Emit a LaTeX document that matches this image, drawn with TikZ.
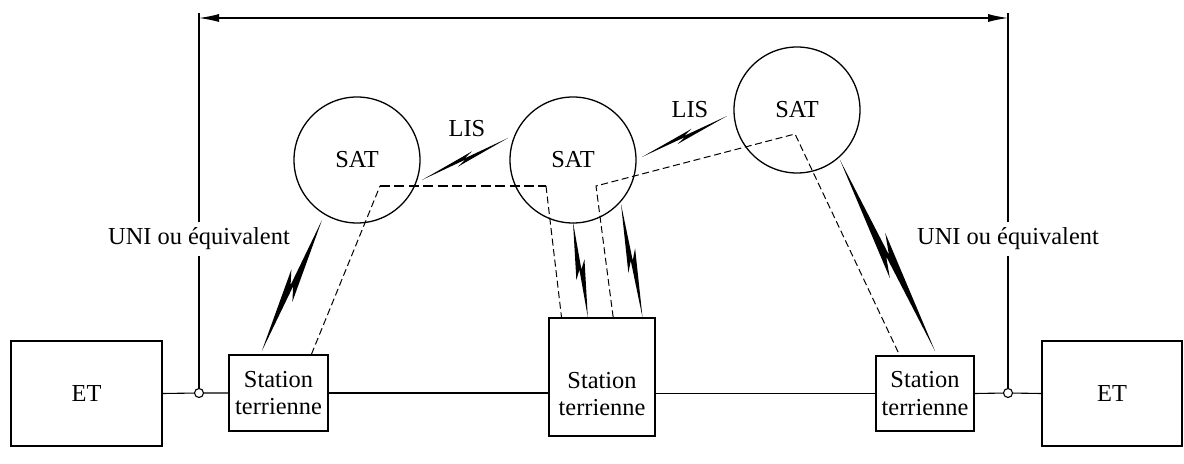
\documentclass[tikz,border=0pt]{standalone}
\usepackage{fontspec}
\setmainfont{Liberation Serif}
\usetikzlibrary{calc,arrows.meta}
% lightning bolt: #1 start, #2 end, #3 half width, #4 notch offset, #5 side angle
\newcommand\boltshape[5]{%
  \fill (#1) -- ($(#1)!0.6!(#2)!#3!#5:(#2)$) -- ($(#1)!0.5!(#2)!#4!#5:(#2)$) -- (#2)
    -- ($(#2)!0.6!(#1)!#3!#5:(#1)$) -- ($(#2)!0.5!(#1)!#4!#5:(#1)$) -- cycle;}
\begin{document}
\begin{tikzpicture}[x=0.5pt,y=-0.5pt, font=\fontsize{12.2}{13.8}\selectfont, line width=0.55pt,
  box/.style={draw, line width=0.7pt, inner sep=0pt, align=center},
  sat/.style={draw, circle, minimum size=63pt, inner sep=0pt, line width=0.65pt},
  tap/.style={draw, circle, fill=white, minimum size=4.5pt, inner sep=0pt},
  thindash/.style={dash pattern=on 3.5pt off 1.8pt, line width=0.5pt},
  thickdash/.style={dash pattern=on 5pt off 2.2pt, line width=1.1pt},
  lbl/.style={inner xsep=1pt, inner ysep=2.5pt},
  dimarrow/.style={{Latex[length=10pt,width=4pt]}-{Latex[length=10pt,width=4pt]}}]
\useasboundingbox (0,0) rectangle (1184,464);

% boxes
\node[box, minimum width=75.5pt, minimum height=52.5pt] (ETL) at (86.5,393.5) {ET};
\node[box, minimum width=70pt, minimum height=52.5pt] (ETR) at (1112,393.5) {ET};
\node[box, minimum width=49.5pt, minimum height=38pt] (SL) at (278.5,393) {Station\\terrienne};
\node[box, minimum width=53pt, minimum height=59pt] (SCb) at (602,377) {};
\node[align=center, inner sep=0pt] (SC) at (602,394) {Station\\terrienne};
\node[box, minimum width=49pt, minimum height=37.5pt] (SR) at (925,393.5) {Station\\terrienne};

% interface points
\node[tap] (T1) at (199,393) {};
\node[tap] (T2) at (1008,393) {};

% ground line
\draw (ETL.east) -- (T1) -- (SL.west);
\draw (SL.east) -- (SL.east -| SCb.west);
\draw (SR.west) -- (SR.west -| SCb.east);
\draw (SR.east) -- (T2) -- (ETR.west);

% UNI labels and vertical lines
\node[lbl] (U1) at (199,239) {UNI ou équivalent};
\node[lbl] (U2) at (1008,239) {UNI ou équivalent};
\coordinate (top1) at (199,13);
\coordinate (top2) at (1008,13);
\draw (T1) -- (U1.south);
\draw (U1.north) -- (top1);
\draw (T2) -- (U2.south);
\draw (U2.north) -- (top2);
\coordinate (a1) at (199,18);
\coordinate (a2) at (1008,18);
\draw[dimarrow] (a1) -- (a2);

% satellites
\node[sat] (S1) at (357,160) {SAT};
\node[sat] (S2) at (573,160) {SAT};
\node[sat] (S3) at (797,110) {SAT};
\node (L1) at (467,129) {LIS};
\node (L2) at (690,110) {LIS};

% bolt end points
\coordinate (bAt) at (322,220);
\coordinate (bAb) at ($(SL.north west)!0.333!(SL.north east)+(0,-3)$);
\coordinate (bBt) at (573,222);
\coordinate (bBb) at ($(SCb.north west)!0.368!(SCb.north east)$);
\coordinate (bCt) at (621,204);
\coordinate (bCb) at ($(SCb.north west)!0.877!(SCb.north east)$);
\coordinate (bDt) at (840,160);
\coordinate (bDb) at ($(SR.north west)!0.602!(SR.north east)+(0,-4)$);
\coordinate (l1a) at (422,180);
\coordinate (l1b) at (508,138);
\coordinate (l2a) at (642,157);
\coordinate (l2b) at (727,116);

\boltshape{bAt}{bAb}{3.6pt}{0.7pt}{90}
\boltshape{bBt}{bBb}{2.8pt}{0.5pt}{-90}
\boltshape{bCt}{bCb}{2.8pt}{0.5pt}{-90}
\boltshape{bDt}{bDb}{4pt}{0.8pt}{-90}
\boltshape{l1a}{l1b}{1.9pt}{0.35pt}{90}
\boltshape{l2a}{l2b}{1.9pt}{0.35pt}{90}

% dashed connection paths
\coordinate (d1a) at ($(SL.north west)!0.828!(SL.north east)$);
\coordinate (d1b) at (380,186);
\coordinate (d1c) at (546,186);
\coordinate (d1d) at ($(SCb.north west)!0.123!(SCb.north east)$);
\draw[thindash] (d1a) -- (d1b);
\draw[thickdash] (d1b) -- (d1c);
\draw[thindash] (d1c) -- (d1d);

\coordinate (d2a) at ($(SCb.north west)!0.604!(SCb.north east)$);
\coordinate (d2b) at (596,186);
\coordinate (d2c) at (795,134);
\coordinate (d2d) at ($(SR.north west)!0.245!(SR.north east)$);
\draw[thindash] (d2a) -- (d2b) -- (d2c) -- (d2d);
\end{tikzpicture}
\end{document}
